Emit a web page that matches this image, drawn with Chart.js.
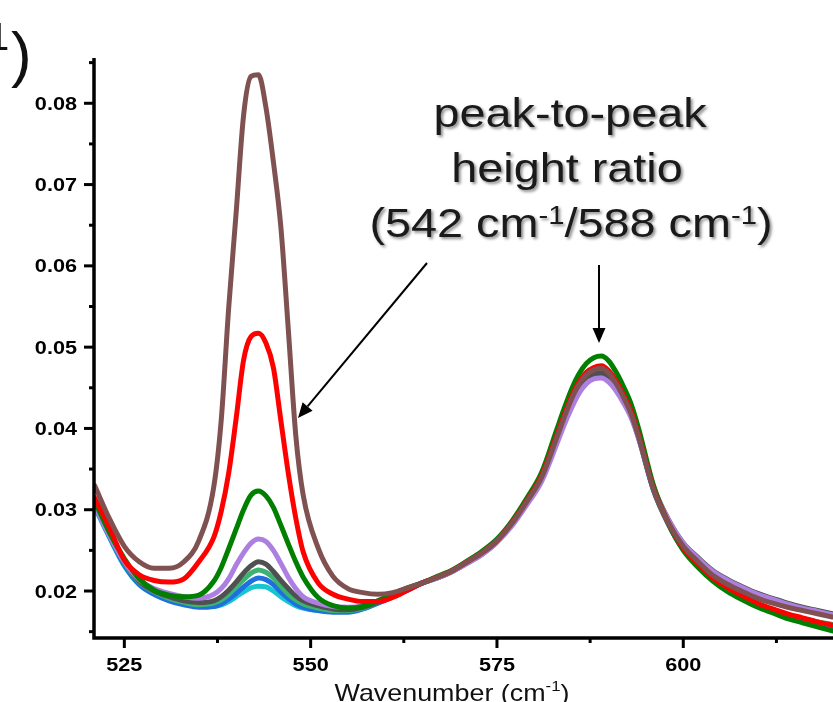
<!DOCTYPE html>
<html>
<head>
<meta charset="utf-8">
<script src="https://cdn.jsdelivr.net/npm/chart.js@4"></script>
<style>
  html, body { margin: 0; padding: 0; background: #fff; }
  canvas { display: block; }
</style>
</head>
<body>
<canvas id="myChart" width="833" height="702"></canvas>
<script>
// wavenumber (cm-1) sample positions, shared by every spectrum
var wavenumbers = [521,523,525,527,529,531,533,535,537,538,539,540,541,542,543,544,545,546,547,548,549,551,553,555,557,559,561,563,565,567,569,571,573,575,577,579,581,583,584,585,586,587,588,589,590,591,592,593,594,596,598,600,602,604,606,608,610,612,614,616,618,620]

// absorbance, one array per spectrum
var brown = [0.0330,0.0289,0.0255,0.0236,0.0228,0.0228,0.0236,0.0262,0.0328, 0.0410,0.0548,0.0665,0.0785,0.0833,0.0835,0.0795,0.0728,0.0648,0.0522,0.0392,0.0318, 0.0253,0.0218,0.0203,0.0198,0.0196,0.0198,0.0204,0.0210,0.0217,0.0225,0.0236,0.0247,0.0262,0.0283,0.0310,0.0340,0.0388, 0.0413,0.0436,0.0454,0.0466,0.0472,0.0474,0.0468,0.0455,0.0438,0.0418,0.0390, 0.0325,0.0284,0.0255,0.0236,0.0219,0.0208,0.0199,0.0191,0.0185,0.0180,0.0176,0.0172,0.0168]
var red = [0.0315,0.0278,0.0238,0.0220,0.0213,0.0211,0.0215,0.0236,0.0266, 0.0298,0.0345,0.0412,0.0484,0.0513,0.0517,0.0505,0.0475,0.0410,0.0345,0.0290,0.0248, 0.0210,0.0196,0.0190,0.0187,0.0187,0.0192,0.0201,0.0210,0.0217,0.0225,0.0236,0.0247,0.0262,0.0284,0.0311,0.0342,0.0391, 0.0416,0.0439,0.0457,0.0469,0.0475,0.0477,0.0471,0.0458,0.0441,0.0421,0.0392, 0.0326,0.0284,0.0253,0.0233,0.0216,0.0204,0.0194,0.0185,0.0178,0.0172,0.0167,0.0162,0.0158]
var green = [0.0311,0.0272,0.0240,0.0215,0.0201,0.0195,0.0193,0.0195,0.0212, 0.0229,0.0252,0.0276,0.0300,0.0318,0.0323,0.0317,0.0303,0.0281,0.0258,0.0236,0.0217, 0.0192,0.0182,0.0179,0.0181,0.0188,0.0196,0.0204,0.0210,0.0218,0.0226,0.0237,0.0249,0.0264,0.0286,0.0314,0.0346,0.0398, 0.0424,0.0448,0.0467,0.0480,0.0487,0.0489,0.0483,0.0469,0.0451,0.0430,0.0400, 0.0330,0.0283,0.0250,0.0229,0.0212,0.0199,0.0189,0.0180,0.0173,0.0166,0.0161,0.0156,0.0151]
var purple = [0.0306,0.0268,0.0236,0.0214,0.0203,0.0197,0.0193,0.0191,0.0196, 0.0203,0.0215,0.0232,0.0247,0.0259,0.0264,0.0261,0.0250,0.0234,0.0217,0.0203,0.0193, 0.0185,0.0181,0.0180,0.0182,0.0188,0.0195,0.0202,0.0210,0.0216,0.0224,0.0234,0.0245,0.0260,0.0280,0.0306,0.0335,0.0380, 0.0404,0.0425,0.0443,0.0455,0.0461,0.0462,0.0457,0.0446,0.0431,0.0413,0.0388, 0.0327,0.0288,0.0259,0.0240,0.0224,0.0213,0.0204,0.0196,0.0190,0.0184,0.0179,0.0175,0.0171]
var darkgray = [0.0308,0.0270,0.0236,0.0212,0.0200,0.0193,0.0188,0.0186,0.0188, 0.0193,0.0201,0.0211,0.0222,0.0231,0.0236,0.0233,0.0224,0.0213,0.0203,0.0194,0.0188, 0.0182,0.0178,0.0177,0.0180,0.0186,0.0194,0.0202,0.0210,0.0217,0.0225,0.0235,0.0246,0.0261,0.0282,0.0308,0.0338,0.0385, 0.0409,0.0431,0.0449,0.0461,0.0467,0.0468,0.0463,0.0451,0.0435,0.0416,0.0390, 0.0328,0.0288,0.0259,0.0241,0.0225,0.0214,0.0205,0.0197,0.0191,0.0185,0.0180,0.0176,0.0172]
var seagreen = [0.0307,0.0269,0.0235,0.0211,0.0199,0.0191,0.0186,0.0183,0.0185, 0.0189,0.0196,0.0205,0.0214,0.0222,0.0226,0.0223,0.0216,0.0206,0.0196,0.0189,0.0184, 0.0179,0.0176,0.0176,0.0179,0.0186,0.0194,0.0202,0.0210,0.0216,0.0224,0.0235,0.0246,0.0261,0.0283,0.0310,0.0341,0.0388, 0.0412,0.0434,0.0452,0.0464,0.0469,0.0470,0.0465,0.0453,0.0437,0.0418,0.0390, 0.0325,0.0283,0.0252,0.0232,0.0215,0.0203,0.0193,0.0184,0.0177,0.0171,0.0166,0.0162,0.0159]
var blue = [0.0305,0.0267,0.0232,0.0208,0.0196,0.0188,0.0183,0.0180,0.0181, 0.0184,0.0190,0.0197,0.0205,0.0212,0.0216,0.0214,0.0208,0.0199,0.0191,0.0184,0.0180, 0.0176,0.0174,0.0174,0.0178,0.0185,0.0193,0.0201,0.0210,0.0216,0.0224,0.0235,0.0246,0.0261,0.0283,0.0310,0.0341,0.0387, 0.0411,0.0433,0.0451,0.0463,0.0468,0.0469,0.0464,0.0452,0.0436,0.0417,0.0389, 0.0324,0.0282,0.0251,0.0231,0.0214,0.0202,0.0191,0.0182,0.0175,0.0169,0.0164,0.0160,0.0156]
var cyan = [0.0304,0.0266,0.0231,0.0208,0.0196,0.0189,0.0184,0.0181,0.0181, 0.0183,0.0187,0.0193,0.0199,0.0204,0.0206,0.0205,0.0200,0.0193,0.0187,0.0182,0.0179, 0.0176,0.0175,0.0175,0.0178,0.0185,0.0193,0.0201,0.0210,0.0216,0.0224,0.0234,0.0245,0.0260,0.0282,0.0309,0.0339,0.0385, 0.0409,0.0431,0.0448,0.0460,0.0465,0.0466,0.0461,0.0450,0.0434,0.0415,0.0388, 0.0324,0.0283,0.0252,0.0232,0.0216,0.0203,0.0193,0.0184,0.0177,0.0171,0.0166,0.0162,0.0158]

// tick labels
var xTicks = [525, 550, 575, 600]
var yTicks = [0.02, 0.03, 0.04, 0.05, 0.06, 0.07, 0.08]

// first one listed is drawn on top
var spectra = [
  { label: 'brown', data: brown, color: '#7f5151' },
  { label: 'red', data: red, color: '#ff0000' },
  { label: 'green', data: green, color: '#007f00' },
  { label: 'purple', data: purple, color: '#ad7fe0' },
  { label: 'dark gray', data: darkgray, color: '#505050' },
  { label: 'sea green', data: seagreen, color: '#3cb371' },
  { label: 'blue', data: blue, color: '#1f6fdf' },
  { label: 'cyan', data: cyan, color: '#17c6cf' }
]

var FONT = '"Liberation Sans", Arial, sans-serif'
var SX = 1.17  // the figure is a bit stretched sideways

function text(ctx, str, x, y, font, align, sx) {
  ctx.save()
  ctx.translate(x, y)
  ctx.scale(sx || 1, 1)
  ctx.font = font
  ctx.textAlign = align || 'left'
  ctx.textBaseline = 'alphabetic'
  ctx.fillText(str, 0, 0)
  ctx.restore()
}

// pieces: [string, isSuperscript]
function richWidth(ctx, pieces, font, supFont) {
  var w = 0
  pieces.forEach(function (p) {
    ctx.font = p[1] ? supFont : font
    w += ctx.measureText(p[0]).width
  })
  return w
}
function richText(ctx, pieces, cx, y, font, supFont, rise, sx) {
  ctx.save()
  ctx.translate(cx, y)
  ctx.scale(sx, 1)
  var x = -richWidth(ctx, pieces, font, supFont) / 2
  ctx.textBaseline = 'alphabetic'
  ctx.textAlign = 'left'
  pieces.forEach(function (p) {
    ctx.font = p[1] ? supFont : font
    ctx.fillText(p[0], x, p[1] ? -rise : 0)
    x += ctx.measureText(p[0]).width
  })
  ctx.restore()
}

function arrow(ctx, x1, y1, x2, y2) {
  var ang = Math.atan2(y2 - y1, x2 - x1)
  var len = 15, half = 6.5
  var bx = x2 - len * Math.cos(ang), by = y2 - len * Math.sin(ang)
  ctx.beginPath()
  ctx.moveTo(x1, y1)
  ctx.lineTo(bx, by)
  ctx.lineWidth = 2
  ctx.strokeStyle = '#000'
  ctx.stroke()
  ctx.beginPath()
  ctx.moveTo(x2, y2)
  ctx.lineTo(bx + half * Math.sin(ang), by - half * Math.cos(ang))
  ctx.lineTo(bx - half * Math.sin(ang), by + half * Math.cos(ang))
  ctx.closePath()
  ctx.fillStyle = '#000'
  ctx.fill()
}

var framePlugin = {
  id: 'frame',
  afterDraw: function (chart) {
    var ctx = chart.ctx
    var xs = chart.scales.x, ys = chart.scales.y, a = chart.chartArea
    ctx.save()
    ctx.strokeStyle = '#000'
    ctx.fillStyle = '#000'
    ctx.lineCap = 'butt'

    // axis lines
    ctx.lineWidth = 3.5
    ctx.beginPath()
    ctx.moveTo(a.left, a.top)
    ctx.lineTo(a.left, a.bottom)
    ctx.lineTo(a.right + 2, a.bottom)
    ctx.stroke()

    // y ticks, major and minor
    ctx.lineWidth = 3
    yTicks.forEach(function (v) {
      var py = ys.getPixelForValue(v)
      ctx.beginPath(); ctx.moveTo(a.left - 10, py); ctx.lineTo(a.left, py); ctx.stroke()
      text(ctx, v.toFixed(2), a.left - 17, py + 6.6, 'bold 18.5px ' + FONT, 'right', SX)
    })
    for (var m = 0.015; m < ys.max; m += 0.01) {
      var pm = ys.getPixelForValue(m)
      ctx.beginPath(); ctx.moveTo(a.left - 5, pm); ctx.lineTo(a.left, pm); ctx.stroke()
    }

    // x ticks, major and minor
    xTicks.forEach(function (v) {
      var px = xs.getPixelForValue(v)
      ctx.beginPath(); ctx.moveTo(px, a.bottom); ctx.lineTo(px, a.bottom + 10); ctx.stroke()
      text(ctx, String(v), px, 671, 'bold 18.5px ' + FONT, 'center', SX)
    })
    for (var n = 512.5; n < xs.max; n += 25) {
      if (n < xs.min) continue
      var pn = xs.getPixelForValue(n)
      ctx.beginPath(); ctx.moveTo(pn, a.bottom); ctx.lineTo(pn, a.bottom + 5); ctx.stroke()
    }

    // axis title (cut by the bottom edge in the figure)
    ctx.fillStyle = '#111'
    richText(ctx, [['Wavenumber (cm', false], ['-1', true], [')', false]],
      452, 701, '24px ' + FONT, '15px ' + FONT, 10, 1.12)

    // leftover of the panel label at the top-left corner
    text(ctx, '1', -12.5, 50, '39px ' + FONT, 'left', 1)
    text(ctx, ')', 11, 75, '62px ' + FONT, 'left', 1)

    // annotation with soft shadow
    ctx.save()
    ctx.fillStyle = '#1a1a1a'
    ctx.shadowColor = 'rgba(0,0,0,0.45)'
    ctx.shadowOffsetX = 2
    ctx.shadowOffsetY = 2
    ctx.shadowBlur = 3
    var aFont = '40px ' + FONT, sFont = '25px ' + FONT
    richText(ctx, [['peak-to-peak', false]], 570, 127, aFont, sFont, 0, SX)
    richText(ctx, [['height ratio', false]], 567, 182, aFont, sFont, 0, SX)
    richText(ctx, [['(542 cm', false], ['-1', true], ['/588 cm', false], ['-1', true], [')', false]],
      571, 237, aFont, sFont, 13, SX)
    ctx.restore()

    arrow(ctx, 427, 263, 298, 418)
    arrow(ctx, 599, 265, 599, 343)
    ctx.restore()
  }
}

var ctx = document.getElementById('myChart').getContext('2d')
var chart = new Chart(ctx, {
  type: 'line',
  data: {
    datasets: spectra.map(function (s) {
      return {
        label: s.label,
        data: wavenumbers.map(function (w, i) { return { x: w, y: s.data[i] } }),
        borderColor: s.color,
        backgroundColor: s.color,
        borderWidth: 5,
        pointRadius: 0,
        fill: false,
        cubicInterpolationMode: 'monotone',
        borderJoinStyle: 'round',
        borderCapStyle: 'round',
        clip: { left: 0, top: 5, right: 0, bottom: 0 }
      }
    })
  },
  options: {
    responsive: false,
    animation: false,
    devicePixelRatio: 1,
    events: [],
    layout: { padding: { left: 94, top: 58, right: 0, bottom: 64 } },
    plugins: { legend: { display: false }, tooltip: { enabled: false } },
    scales: {
      x: { type: 'linear', min: 520.93, max: 620.09, display: false },
      y: { type: 'linear', min: 0.01422, max: 0.08557, display: false }
    }
  },
  plugins: [framePlugin]
})
</script>
</body>
</html>
